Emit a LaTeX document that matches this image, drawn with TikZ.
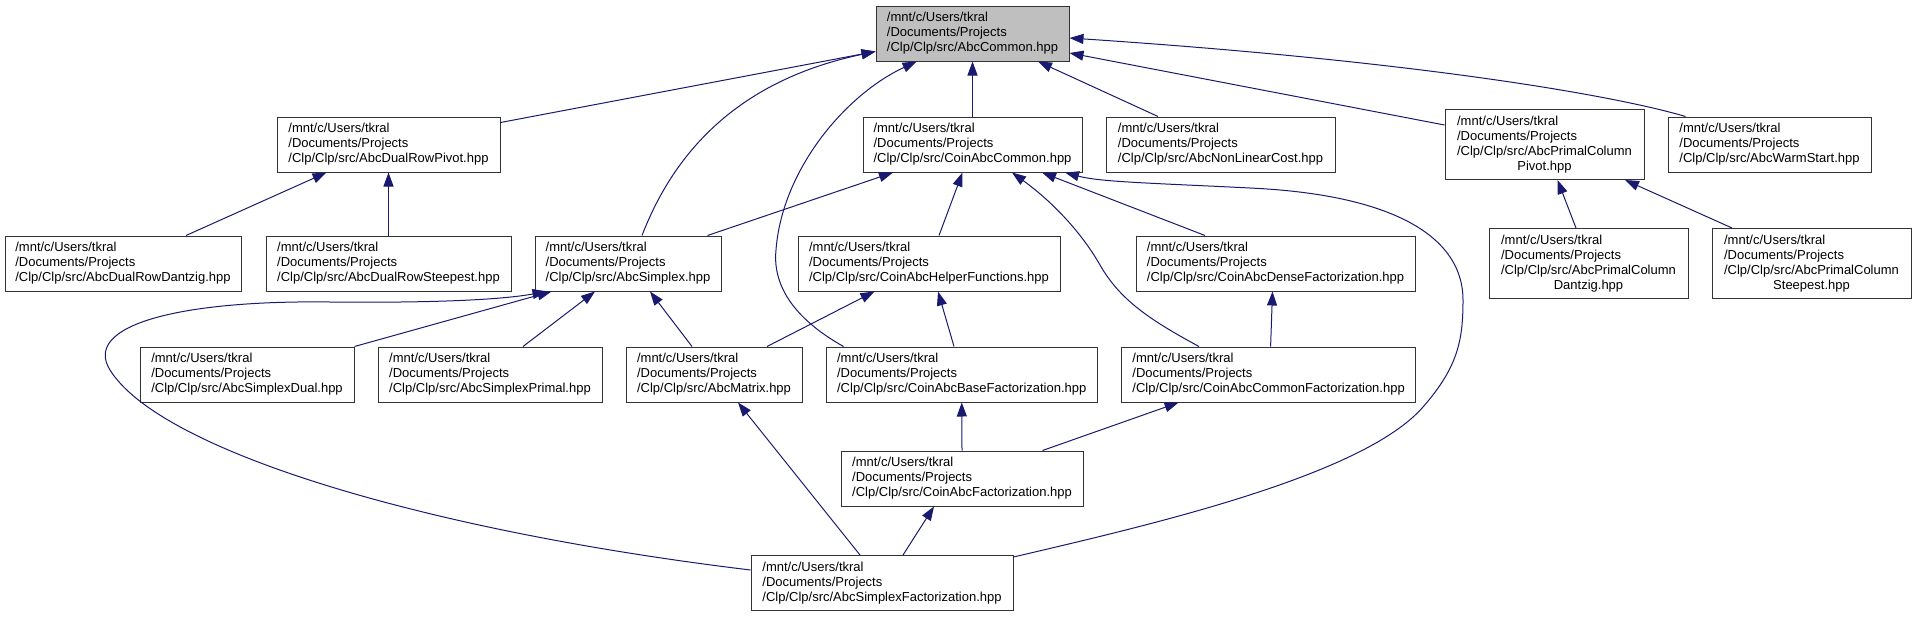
\documentclass[tikz,border=0pt]{standalone}
\usepackage{fontspec}
\setmainfont{Liberation Sans}
\usetikzlibrary{arrows.meta,calc}
\definecolor{edgeblue}{HTML}{191970}
\definecolor{boxline}{HTML}{333333}
\newcommand\mypath[1]{\begin{tabular}{@{}l@{}}/mnt/c/Users/tkral\\/Documents/Projects\\/Clp/Clp/src/#1\end{tabular}}
\newcommand\mypathtwo[2]{\begin{tabular}{@{}l@{}}/mnt/c/Users/tkral\\/Documents/Projects\\/Clp/Clp/src/#1\\\multicolumn{1}{@{}c@{}}{#2}\end{tabular}}
\begin{document}
\begin{tikzpicture}[x=1pt,y=-1pt,
  filebox/.style={draw=boxline,line width=1pt,fill=white,inner sep=0pt,
    minimum height=55pt,font=\fontsize{13}{15}\selectfont},
  tallbox/.style={filebox,minimum height=70pt},
  dep/.style={draw=edgeblue,line width=1pt,-{Triangle[length=14pt,width=10pt]}}]
\useasboundingbox (0,0) rectangle (1916,616);
% rank 0
\node[filebox,fill=black!25,minimum width=193pt] (common) at (972.5,33.5) {\mypath{AbcCommon.hpp}};
% rank 1
\node[filebox,minimum width=223pt] (drp) at (388.5,144.5) {\mypath{AbcDualRowPivot.hpp}};
\node[filebox,minimum width=219pt] (cac) at (972.5,144.5) {\mypath{CoinAbcCommon.hpp}};
\node[filebox,minimum width=229pt] (nlc) at (1220.5,144.5) {\mypath{AbcNonLinearCost.hpp}};
\node[tallbox,minimum width=199pt] (pcp) at (1544.5,144.5) {\mypathtwo{AbcPrimalColumn}{Pivot.hpp}};
\node[filebox,minimum width=203pt] (ws) at (1769.5,144.5) {\mypath{AbcWarmStart.hpp}};
% rank 2
\node[filebox,minimum width=236pt] (drd) at (123,263.5) {\mypath{AbcDualRowDantzig.hpp}};
\node[filebox,minimum width=245pt] (drs) at (388.5,263.5) {\mypath{AbcDualRowSteepest.hpp}};
\node[filebox,minimum width=186pt] (simplex) at (628,263.5) {\mypath{AbcSimplex.hpp}};
\node[filebox,minimum width=262pt] (helper) at (929,263.5) {\mypath{CoinAbcHelperFunctions.hpp}};
\node[filebox,minimum width=279pt] (dense) at (1275.5,263.5) {\mypath{CoinAbcDenseFactorization.hpp}};
\node[tallbox,minimum width=199pt] (pcd) at (1588.5,263.5) {\mypathtwo{AbcPrimalColumn}{Dantzig.hpp}};
\node[tallbox,minimum width=199pt] (pcs) at (1811.5,263.5) {\mypathtwo{AbcPrimalColumn}{Steepest.hpp}};
% rank 3
\node[filebox,minimum width=214pt] (sdual) at (247,374.5) {\mypath{AbcSimplexDual.hpp}};
\node[filebox,minimum width=224pt] (sprimal) at (490,374.5) {\mypath{AbcSimplexPrimal.hpp}};
\node[filebox,minimum width=176pt] (matrix) at (714,374.5) {\mypath{AbcMatrix.hpp}};
\node[filebox,minimum width=270.5pt] (basef) at (961.75,374.5) {\mypath{CoinAbcBaseFactorization.hpp}};
\node[filebox,minimum width=294pt] (commonf) at (1268.6,374.5) {\mypath{CoinAbcCommonFactorization.hpp}};
% rank 4
\node[filebox,minimum width=242pt] (coinf) at (962,478.5) {\mypath{CoinAbcFactorization.hpp}};
% rank 5
\node[filebox,minimum width=262pt] (sfact) at (882,583) {\mypath{AbcSimplexFactorization.hpp}};

% edges into AbcCommon
\draw[dep] ($(drp.north east)+(0,6)$) -- ($(common.west)+(0,18)$);
\draw[dep] (cac.north) -- (common.south);
\draw[dep] ($(nlc.north)+(-62.5,0)$) -- ($(common.south)+(65.5,0)$);
\draw[dep] ($(pcp.west)+(0,-19.5)$) -- ($(common.east)+(0,19.5)$);
\draw[dep] ($(ws.north west)+(18,0)$) .. controls (1620,97) and (1430,62) .. ($(common.east)+(0,4.5)$);
\draw[dep] ($(simplex.north)+(14,0)$) .. controls (675,150) and (740,80) .. ($(common.west)+(0,18)$);
\draw[dep] ($(basef.north west)+(17.5,0)$) .. controls (800,322) and (772,290) .. (776,250)
  .. controls (782,170) and (845,95) .. ($(common.south)+(-56,0)$);
% edges into CoinAbcCommon
\draw[dep] ($(simplex.north east)+(-14,0)$) -- ($(cac.south)+(-79.5,0)$);
\draw[dep] ($(helper.north)+(10,0)$) -- ($(cac.south)+(-10,0)$);
\draw[dep] ($(commonf.north)+(-69.6,0)$) .. controls (1150,320) and (1120,300) .. (1100,265)
  .. controls (1080,230) and (1050,200) .. ($(cac.south)+(39.5,0)$);
\draw[dep] ($(dense.north)+(-70.5,0)$) -- ($(cac.south)+(69.5,0)$);
\draw[dep] ($(sfact.north east)+(0,2)$) .. controls (1150,525) and (1363,476) .. (1423,407)
  .. controls (1458,367) and (1463,340) .. (1463,300)
  .. controls (1463,240) and (1400,195) .. (1250,188)
  .. controls (1150,183) and (1100,182) .. ($(cac.south east)+(-17.5,0)$);
% DualRowPivot / PrimalColumnPivot children
\draw[dep] ($(drd.north)+(63,0)$) -- ($(drp.south)+(-62,0)$);
\draw[dep] (drs.north) -- (drp.south);
\draw[dep] ($(pcd.north)+(-12.5,0)$) -- ($(pcp.south)+(13,0)$);
\draw[dep] ($(pcs.north)+(-79.5,0)$) -- ($(pcp.south)+(80.5,0)$);
% edges into AbcSimplex
\draw[dep] (sdual.north east) -- ($(simplex.south west)+(17,0)$);
\draw[dep] ($(sprimal.north)+(33,0)$) -- ($(simplex.south)+(-33,0)$);
\draw[dep] ($(matrix.north)+(-22,0)$) -- ($(simplex.south)+(22,0)$);
\draw[dep] ($(sfact.west)+(0,-13)$) .. controls (420,530) and (160,450) .. (110,370)
  .. controls (82,325) and (180,300) .. (330,302)
  .. controls (430,303) and (500,300) .. ($(simplex.south west)+(12,0)$);
% lower edges
\draw[dep] ($(matrix.north east)+(-35.5,0)$) -- ($(helper.south west)+(77,0)$);
\draw[dep] ($(basef.north)+(-7.75,0)$) -- ($(helper.south)+(9,0)$);
\draw[dep] ($(commonf.north)+(2,0)$) -- ($(dense.south)+(-3,0)$);
\draw[dep] (coinf.north) -- (basef.south);
\draw[dep] ($(coinf.north east)+(-41,0)$) -- ($(commonf.south)+(-90,0)$);
\draw[dep] ($(sfact.north)+(21,0)$) -- ($(coinf.south)+(-28,0)$);
\draw[dep] ($(sfact.north)+(-22,0)$) -- ($(matrix.south)+(24,0)$);
\end{tikzpicture}
\end{document}
